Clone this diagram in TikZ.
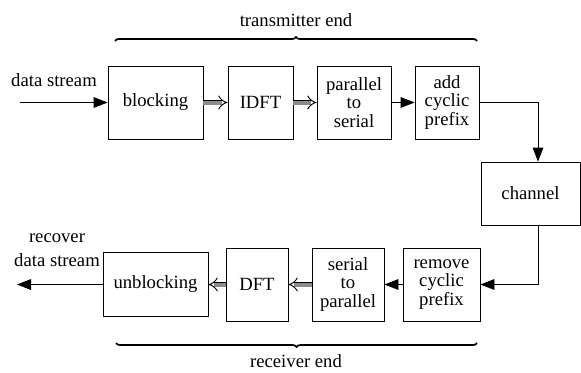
\documentclass[tikz,border=0pt]{standalone}
\usepackage{fontspec}
\setmainfont{Liberation Serif}
\usetikzlibrary{arrows.meta,decorations.pathreplacing}

\begin{document}
\begin{tikzpicture}[x=0.75pt,y=-0.75pt]

  % Style des boites et des fleches
  \tikzstyle{boite} = [draw, line width=0.6pt, align=center, inner sep=0pt, font=\fontsize{14}{14}\selectfont]
  \tikzstyle{texte} = [align=center, font=\fontsize{14}{18}\selectfont]
  \tikzstyle{fleche} = [-{Triangle[length=10.5pt,width=8pt]}, line width=0.6pt]
  \tikzstyle{grossefleche} = [-{Implies}, draw=black, line width=0.7pt, double=gray!90, double distance=3pt]
  \tikzstyle{accolade} = [decorate, decoration={brace, amplitude=3pt}, line width=1.3pt]

  \useasboundingbox (0,0) rectangle (581,372);

  % Emetteur
  \draw (155.5,102.5) node[boite, minimum width=71.25pt, minimum height=54.75pt] (blocking) {blocking};
  \draw (260.5,102.5) node[boite, minimum width=48.75pt, minimum height=54.75pt] (idft) {IDFT};
  \draw (354,102.5) node[boite, minimum width=55.5pt, minimum height=54.75pt] (ps) {parallel\\to\\serial};
  \draw (447,102.5) node[boite, minimum width=48pt, minimum height=54.75pt] (ajout) {add\\cyclic\\prefix};

  % Canal
  \draw (530.5,193.5) node[boite, minimum width=74.25pt, minimum height=47.25pt] (canal) {channel};

  % Recepteur
  \draw (441.5,284.5) node[boite, minimum width=57.75pt, minimum height=54.75pt] (retrait) {remove\\cyclic\\prefix};
  \draw (348,284.5) node[boite, minimum width=54pt, minimum height=54.75pt] (sp) {serial\\to\\parallel};
  \draw (257,284.5) node[boite, minimum width=46.5pt, minimum height=54.75pt] (dft) {DFT};
  \draw (155.5,284.5) node[boite, minimum width=78.75pt, minimum height=48pt] (unblocking) {unblocking};

  % Textes
  \draw (54,80) node[texte] (entree) {data stream};
  \draw (57,250) node[texte] (sortie) {recover\\data stream};
  \draw (296,20) node[texte] (emetteur) {transmitter end};
  \draw (296,361) node[texte] (recepteur) {receiver end};

  % Fleches
  \coordinate (debut) at (20,102.5);
  \coordinate (coin) at (538,102.5);
  \coordinate (fin) at (17,284.5);
  \draw[fleche] (debut) -- (blocking);
  \draw[grossefleche] (blocking) -- (idft);
  \draw[grossefleche] (idft) -- (ps);
  \draw[fleche] (ps) -- (ajout);
  \draw[fleche] (ajout.east) -- (coin) -- (coin |- canal.north);
  \draw[fleche] (coin |- canal.south) |- (retrait.east);
  \draw[fleche] (retrait) -- (sp);
  \draw[grossefleche] (sp) -- (dft);
  \draw[grossefleche] (dft) -- (unblocking);
  \draw[fleche] (unblocking) -- (fin);

  % Accolades
  \draw[accolade] (115,41) -- (477,41);
  \draw[accolade] (477,343) -- (116,343);

\end{tikzpicture}
\end{document}
